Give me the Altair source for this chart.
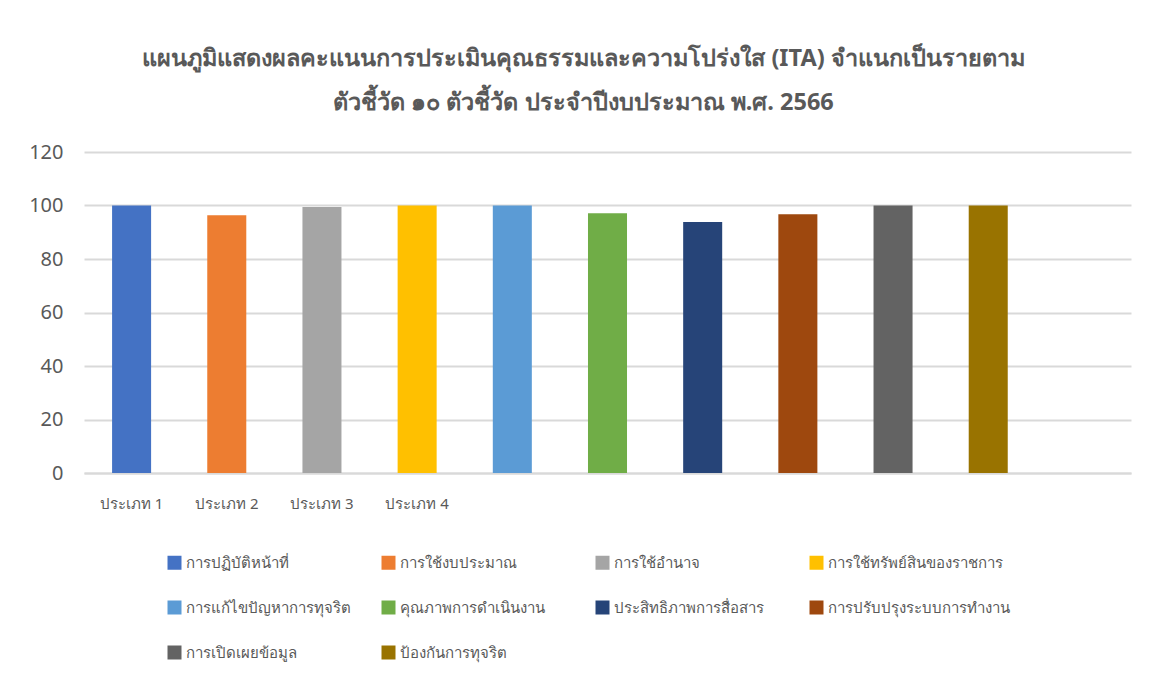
import altair as alt
import pandas as pd

# ---- data ----
series = [
    "การปฏิบัติหน้าที่",
    "การใช้งบประมาณ",
    "การใช้อำนาจ",
    "การใช้ทรัพย์สินของราชการ",
    "การแก้ไขปัญหาการทุจริต",
    "คุณภาพการดำเนินงาน",
    "ประสิทธิภาพการสื่อสาร",
    "การปรับปรุงระบบการทำงาน",
    "การเปิดเผยข้อมูล",
    "ป้องกันการทุจริต",
]
values = [100, 96.4, 99.4, 100, 100, 97.1, 93.8, 96.7, 100, 100]
slots = [1, 2, 3, 4, 5, 6, 7, 8, 9, 10]
slot_domain = [1, 2, 3, 4, 5, 6, 7, 8, 9, 10, 11]
x_labels = ["ประเภท 1", "ประเภท 2", "ประเภท 3", "ประเภท 4"]
colors = ["#4472C4", "#ED7D31", "#A5A5A5", "#FFC000", "#5B9BD5",
          "#70AD47", "#264478", "#9E480E", "#636363", "#997300"]
title_lines = [
    "แผนภูมิแสดงผลคะแนนการประเมินคุณธรรมและความโปร่งใส (ITA) จำแนกเป็นรายตาม",
    "ตัวชี้วัด ๑๐ ตัวชี้วัด ประจำปีงบประมาณ พ.ศ. 2566",
]

df = pd.DataFrame({"slot": slots, "series": series, "value": values})

FONT = "Noto Sans, sans-serif"
GREY = "#595959"

labels_js = "[" + ",".join("'" + s + "'" for s in x_labels) + "]"

chart = alt.Chart(df).mark_bar().encode(
    x=alt.X("slot:O",
            scale=alt.Scale(domain=slot_domain, paddingInner=0.59, paddingOuter=0.295),
            axis=alt.Axis(title=None, labelExpr=f"datum.value <= {len(x_labels)} ? {labels_js}[datum.value - 1] : ''",
                          labelAngle=0, labelFontSize=15, labelColor=GREY, labelFont=FONT,
                          labelPadding=23, ticks=False, domainColor="#d9d9d9", domainWidth=2)),
    y=alt.Y("value:Q",
            scale=alt.Scale(domain=[0, 120], nice=False),
            axis=alt.Axis(title=None, values=[0, 20, 40, 60, 80, 100, 120],
                          labelFontSize=20, labelColor=GREY, labelFont=FONT, labelPadding=21,
                          ticks=False, domain=False, gridColor="#d9d9d9", gridWidth=2)),
    color=alt.Color("series:N",
                    scale=alt.Scale(domain=series, range=colors),
                    sort=series,
                    legend=alt.Legend(title=None, orient="none", legendX=83, legendY=403,
                                      direction="horizontal",
                                      columns=4, gridAlign="all", columnPadding=13, rowPadding=29,
                                      symbolType="square", symbolSize=196, symbolStrokeWidth=0,
                                      labelFontSize=15, labelColor=GREY, labelFont=FONT,
                                      labelLimit=300, labelOffset=4)),
).properties(
    width=1047,
    height=321,
    title=alt.TitleParams(text=title_lines, fontSize=23.5, fontWeight="bold", color=GREY,
                          font=FONT, anchor="middle", dx=-24, offset=28, lineHeight=44),
    autosize=alt.AutoSizeParams(type="none"),
    padding={"left": 76, "top": 144, "right": 10, "bottom": 200},
).configure_view(stroke=None)

chart.save("out.html", embed_options={"renderer": "svg", "actions": False})
